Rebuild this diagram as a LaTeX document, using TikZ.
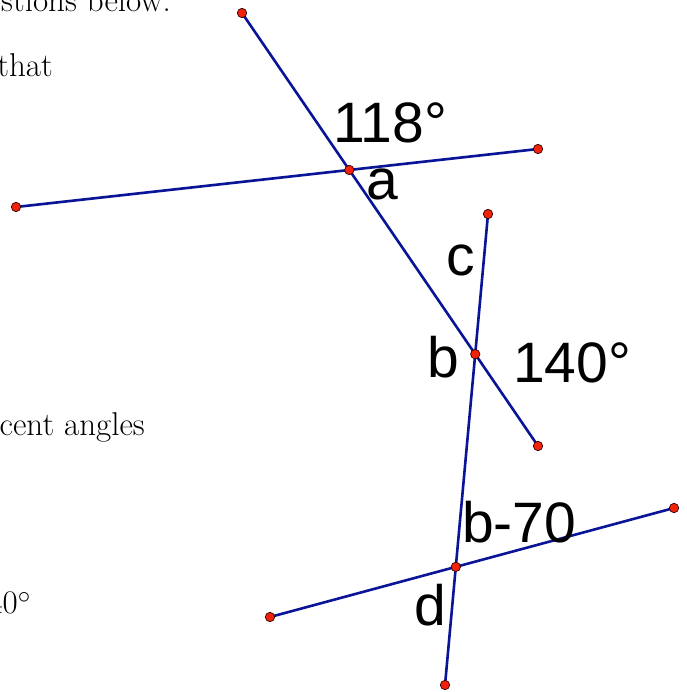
\documentclass[tikz,border=0pt]{standalone}
\usepackage{fontspec}
\usepackage{tikz}
\newfontfamily\labelfont{Liberation Sans}
\definecolor{lineblue}{RGB}{10,20,150}
\definecolor{dotred}{RGB}{240,35,10}

\begin{document}
\begin{tikzpicture}[x=1pt, y=-1pt,
	line/.style={lineblue, line width=2.6pt},
	dot/.style={circle, fill=dotred, draw=black!80!red, line width=0.7pt, inner sep=0pt, minimum size=9.4pt},
	lbl/.style={font=\labelfont\fontsize{57}{62}\selectfont, inner sep=0pt, anchor=base west},
	txt/.style={font=\fontsize{33}{38}\selectfont, inner sep=0pt, anchor=base east}]
	\useasboundingbox (0,0) rectangle (686,692);
	\clip (0,0) rectangle (686,692);
	% cut-off text of the page
	\node[txt] (t1) at (171,12) {stions below.};
	\node[txt] (t2) at (53,77) {that};
	\node[txt] (t3) at (145,435) {cent angles};
	\node[txt] (t4) at (31,613) {40$^\circ$};
	% end points of the four lines
	\coordinate (p1) at (242,13);
	\coordinate (p2) at (538,446);
	\coordinate (q1) at (16,207);
	\coordinate (q2) at (538,149);
	\coordinate (r1) at (488,214);
	\coordinate (r2) at (445,685);
	\coordinate (s1) at (270,617);
	\coordinate (s2) at (674,508);
	% crossings
	\coordinate (A) at (intersection of p1--p2 and q1--q2);
	\coordinate (B) at (intersection of p1--p2 and r1--r2);
	\coordinate (D) at (intersection of r1--r2 and s1--s2);
	\draw[line] (p1) -- (p2);
	\draw[line] (q1) -- (q2);
	\draw[line] (r1) -- (r2);
	\draw[line] (s1) -- (s2);
	\foreach \pt in {p1,p2,q1,q2,r1,r2,s1,s2,A,B,D}
		\node[dot] at (\pt) {};
	% angle labels
	\node[lbl] (l118) at (333,143) {118°};
	\node[lbl] (la) at (366,200) {a};
	\node[lbl] (lc) at (446,275) {c};
	\node[lbl] (lb) at (427,377) {b};
	\node[lbl] (l140) at (513,382) {140°};
	\node[lbl] (lb70) at (462,542) {b-70};
	\node[lbl] (ld) at (414,625) {d};
\end{tikzpicture}
\end{document}
